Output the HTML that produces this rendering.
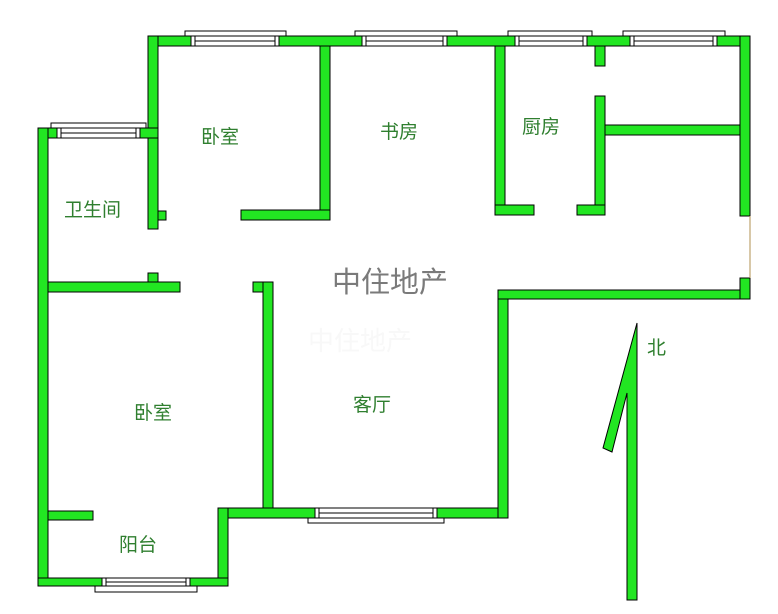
<!DOCTYPE html>
<html><head><meta charset="utf-8"><style>
html,body{margin:0;padding:0;background:#fff}
svg{display:block}
text{font-family:"Liberation Sans","Noto Sans CJK SC",sans-serif}
</style></head><body>
<svg width="778" height="614" viewBox="0 0 778 614" xmlns="http://www.w3.org/2000/svg">
<g fill="#22e622" stroke="#000" stroke-width="1">
<rect x="148" y="36" width="43" height="10"/>
<rect x="279" y="36" width="83" height="10"/>
<rect x="447" y="36" width="68" height="10"/>
<rect x="587" y="36" width="43" height="10"/>
<rect x="717" y="36" width="33" height="10"/>
<rect x="148" y="36" width="10" height="193"/>
<rect x="158" y="211" width="8" height="9"/>
<rect x="320" y="46" width="10" height="174"/>
<rect x="241" y="210" width="89" height="10"/>
<rect x="38" y="128" width="19" height="10"/>
<rect x="140" y="128" width="18" height="10"/>
<rect x="38" y="128" width="10" height="458"/>
<rect x="48" y="282" width="132" height="10"/>
<rect x="148" y="273" width="10" height="9"/>
<rect x="253" y="282" width="20" height="10"/>
<rect x="263" y="282" width="10" height="236"/>
<rect x="218" y="508" width="97" height="10"/>
<rect x="437" y="508" width="71" height="10"/>
<rect x="498" y="290" width="10" height="228"/>
<rect x="498" y="290" width="252" height="9"/>
<rect x="218" y="508" width="10" height="78"/>
<rect x="38" y="578" width="64" height="8"/>
<rect x="190" y="578" width="38" height="8"/>
<rect x="48" y="511" width="45" height="9"/>
<rect x="495" y="46" width="10" height="169"/>
<rect x="495" y="205" width="39" height="10"/>
<rect x="595" y="46" width="10" height="20"/>
<rect x="595" y="96" width="10" height="119"/>
<rect x="577" y="205" width="28" height="10"/>
<rect x="605" y="125" width="135" height="10"/>
<rect x="740" y="36" width="10" height="180"/>
<rect x="740" y="278" width="10" height="21"/>
<polygon points="637,323 637,600 627,600 627,393 612,452 603,448"/>
</g>
<line x1="750" y1="216" x2="750" y2="278" stroke="#b09050" stroke-width="1"/>
<g fill="#fff" stroke="#000" stroke-width="1">
<rect x="185" y="31" width="101" height="5"/><rect x="191" y="36" width="88" height="10"/>
<line x1="191" y1="41" x2="279" y2="41"/><rect x="191" y="36" width="4" height="10"/><rect x="275" y="36" width="4" height="10"/>
<rect x="355" y="31" width="102" height="5"/><rect x="362" y="36" width="85" height="10"/>
<line x1="362" y1="41" x2="447" y2="41"/><rect x="362" y="36" width="4" height="10"/><rect x="443" y="36" width="4" height="10"/>
<rect x="508" y="31" width="84" height="5"/><rect x="515" y="36" width="72" height="10"/>
<line x1="515" y1="41" x2="587" y2="41"/><rect x="515" y="36" width="4" height="10"/><rect x="583" y="36" width="4" height="10"/>
<rect x="623" y="31" width="102" height="5"/><rect x="630" y="36" width="87" height="10"/>
<line x1="630" y1="41" x2="717" y2="41"/><rect x="630" y="36" width="4" height="10"/><rect x="713" y="36" width="4" height="10"/>
<rect x="51" y="123" width="95" height="5"/><rect x="57" y="128" width="83" height="10"/>
<line x1="57" y1="133" x2="140" y2="133"/><rect x="57" y="128" width="4" height="10"/><rect x="136" y="128" width="4" height="10"/>
<rect x="308" y="518" width="136" height="5"/><rect x="315" y="508" width="122" height="10"/>
<line x1="315" y1="513" x2="437" y2="513"/><rect x="315" y="508" width="4" height="10"/><rect x="433" y="508" width="4" height="10"/>
<rect x="95" y="586" width="102" height="6"/><rect x="102" y="578" width="88" height="8"/>
<line x1="102" y1="582" x2="190" y2="582"/><rect x="102" y="578" width="4" height="8"/><rect x="186" y="578" width="4" height="8"/>
</g>
<g fill="#2f7f2f" font-size="19">
<text x="201" y="143">卧室</text>
<text x="380" y="138">书房</text>
<text x="522" y="133">厨房</text>
<text x="64" y="216">卫生间</text>
<text x="134" y="419">卧室</text>
<text x="353" y="411">客厅</text>
<text x="119" y="551">阳台</text>
<text x="647" y="354">北</text>
</g>
<text x="332" y="292" font-size="29" fill="#7a7a7a">中住地产</text>
<text x="308" y="350" font-size="26" fill="#f8f8f8">中住地产</text>
</svg>
</body></html>
